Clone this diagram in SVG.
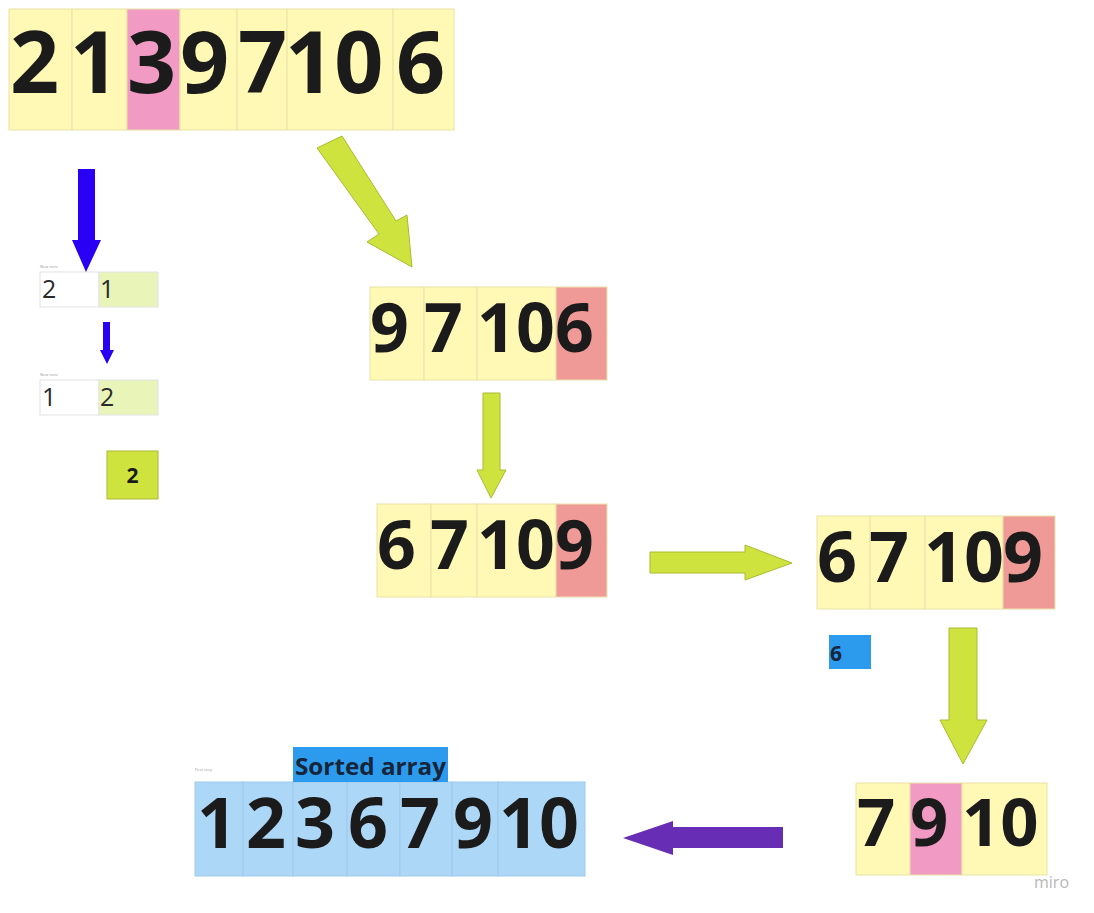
<svg xmlns="http://www.w3.org/2000/svg" width="1094" height="913" viewBox="0 0 1094 913">
<style>
.y{fill:#fff9b5;stroke:#e9e3a8;stroke-width:1}
.p{fill:#f19ac4;stroke:#e9e3a8;stroke-width:1}
.s{fill:#f09a98;stroke:#e9e3a8;stroke-width:1}
.b{fill:#acd7f7;stroke:#9fcaeb;stroke-width:1}
.w{fill:#ffffff;stroke:#e2e2e2;stroke-width:1}
.g{fill:#e8f4b8;stroke:#e2e2e2;stroke-width:1}
.d{font-family:"Open Sans","Liberation Sans",sans-serif;font-weight:700;fill:#1b1b1b}
.r{font-family:"Open Sans","Liberation Sans",sans-serif;font-weight:400;fill:#2a2a2a}
.t{font-family:"Open Sans","Liberation Sans",sans-serif;font-size:4px;fill:#999}
.ga{fill:#cfe33e;stroke:#aabb30;stroke-width:1}
</style>
<rect width="1094" height="913" fill="#ffffff"/>

<g id="arr-top">
<rect class="y" x="9" y="9" width="63" height="121"/>
<rect class="y" x="72" y="9" width="55" height="121"/>
<rect class="p" x="127" y="9" width="53" height="121"/>
<rect class="y" x="180" y="9" width="57" height="121"/>
<rect class="y" x="237" y="9" width="50" height="121"/>
<rect class="y" x="287" y="9" width="106" height="121"/>
<rect class="y" x="393" y="9" width="61" height="121"/>
<g class="d" font-size="86">
<text x="10" y="93">2</text>
<text x="70" y="93">1</text>
<text x="127" y="93">3</text>
<text x="180" y="93">9</text>
<text x="238" y="93">7</text>
<text x="285" y="93">10</text>
<text x="396" y="93">6</text>
</g>
</g>

<g id="arr-2">
<rect class="y" x="370" y="287" width="54" height="93"/>
<rect class="y" x="424" y="287" width="53" height="93"/>
<rect class="y" x="477" y="287" width="79" height="93"/>
<rect class="s" x="556" y="287" width="51" height="93"/>
<g class="d" font-size="68">
<text x="370" y="352">9</text>
<text x="424" y="352">7</text>
<text x="477" y="352">10</text>
<text x="555" y="352">6</text>
</g>
</g>

<g id="arr-3">
<rect class="y" x="377" y="504" width="54" height="93"/>
<rect class="y" x="431" y="504" width="46" height="93"/>
<rect class="y" x="477" y="504" width="79" height="93"/>
<rect class="s" x="556" y="504" width="51" height="93"/>
<g class="d" font-size="68">
<text x="377" y="569">6</text>
<text x="430" y="569">7</text>
<text x="477" y="569">10</text>
<text x="555" y="569">9</text>
</g>
</g>

<g id="arr-4">
<rect class="y" x="817" y="516" width="53" height="93"/>
<rect class="y" x="870" y="516" width="55" height="93"/>
<rect class="y" x="925" y="516" width="78" height="93"/>
<rect class="s" x="1003" y="516" width="52" height="93"/>
<g class="d" font-size="70">
<text x="817" y="582">6</text>
<text x="869" y="582">7</text>
<text x="924" y="582">10</text>
<text x="1003" y="582">9</text>
</g>
</g>

<g id="arr-5">
<rect class="y" x="856" y="783" width="54" height="92"/>
<rect class="p" x="910" y="783" width="52" height="92"/>
<rect class="y" x="962" y="783" width="85" height="92"/>
<g class="d" font-size="67">
<text x="857" y="846">7</text>
<text x="910" y="846">9</text>
<text x="962" y="846">10</text>
</g>
<text x="1034" y="888" font-family="Open Sans, Liberation Sans, sans-serif" font-size="16" fill="#b8b8b8">miro</text>
</g>

<g id="sorted">
<text class="t" x="195" y="771">First step</text>
<rect class="b" x="195" y="782" width="48" height="94"/>
<rect class="b" x="243" y="782" width="50" height="94"/>
<rect class="b" x="293" y="782" width="54" height="94"/>
<rect class="b" x="347" y="782" width="53" height="94"/>
<rect class="b" x="400" y="782" width="52" height="94"/>
<rect class="b" x="452" y="782" width="46" height="94"/>
<rect class="b" x="498" y="782" width="87" height="94"/>
<g class="d" font-size="70">
<text x="197" y="848">1</text>
<text x="246" y="848">2</text>
<text x="295" y="848">3</text>
<text x="348" y="848">6</text>
<text x="400" y="848">7</text>
<text x="453" y="848">9</text>
<text x="499" y="848">10</text>
</g>
</g>

<g id="label-sorted">
<rect x="293" y="747" width="155" height="35" fill="#2d9bed"/>
<text class="d" x="295" y="775" font-size="24" textLength="151" lengthAdjust="spacingAndGlyphs" style="fill:#16253a">Sorted array</text>
</g>

<g id="small-1">
<text class="t" x="40" y="268">New note</text>
<rect class="w" x="40" y="272" width="59" height="35"/>
<rect class="g" x="99" y="272" width="59" height="35"/>
<text class="r" x="42" y="298" font-size="25">2</text>
<text class="r" x="100" y="298" font-size="25">1</text>
</g>

<g id="small-2">
<text class="t" x="40" y="376">New note</text>
<rect class="w" x="40" y="380" width="59" height="35"/>
<rect class="g" x="99" y="380" width="59" height="35"/>
<text class="r" x="42" y="406" font-size="25">1</text>
<text class="r" x="100" y="406" font-size="25">2</text>
</g>

<g id="box-2">
<rect x="107" y="451" width="51" height="48" fill="#cfe33e" stroke="#a9b935" stroke-width="1"/>
<text class="d" x="132.5" y="483" font-size="21" text-anchor="middle">2</text>
</g>

<g id="box-6">
<rect x="829" y="635" width="42" height="34" fill="#2d9bed"/>
<text class="d" x="830" y="661" font-size="21" style="fill:#16253a">6</text>
</g>

<g id="connectors">
<polygon points="78,169 95,169 95,240 101,240 86,272 72,240 78,240" fill="#2a00f5"/>
<polygon points="103,322 110,322 110,350 114,350 107,364 100,350 103,350" fill="#2a00f5"/>
<polygon class="ga" points="317,148 342,136 396,221 407,215 412,267 367,242 379,234"/>
<polygon class="ga" points="483,393 500,393 500,470 506,470 491,498 477,470 483,470"/>
<polygon class="ga" points="650,552 745,552 745,545 792,563 745,580 745,573 650,573"/>
<polygon class="ga" points="949,628 977,628 977,720 987,720 963,764 940,720 949,720"/>
<polygon points="783,827 783,848 673,848 673,855 623,838 673,821 673,827" fill="#672db4"/>
</g>
</svg>
